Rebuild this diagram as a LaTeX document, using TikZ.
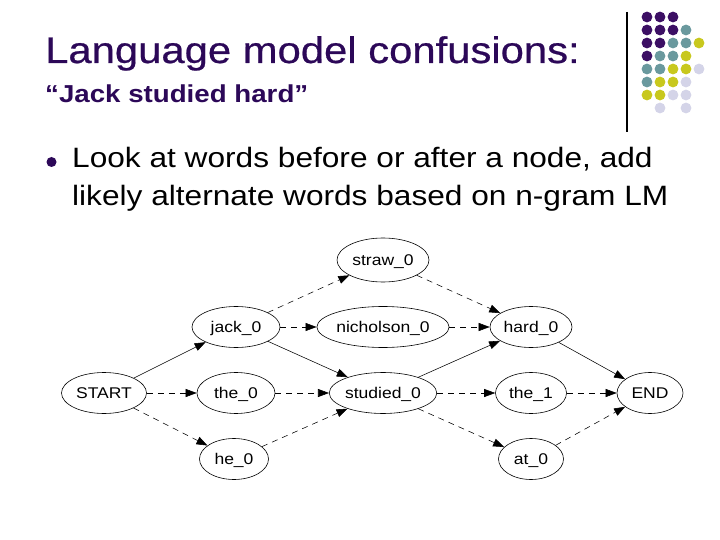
\documentclass[tikz,border=0pt]{standalone}
\usepackage{fontspec}
\setmainfont{Liberation Sans}
\newfontfamily\arialx[FakeStretch=1.13]{Liberation Sans}
\newfontfamily\arialxt[FakeStretch=1.13,FakeBold=0.6]{Liberation Sans}
\usetikzlibrary{shapes.geometric,arrows.meta}
\definecolor{ttl}{HTML}{2C0858}
\definecolor{dP}{HTML}{3C0F64}
\definecolor{dT}{HTML}{6A999E}
\definecolor{dY}{HTML}{C8C81E}
\definecolor{dL}{HTML}{D4D4E8}
\tikzset{
  gnode/.style={draw, line width=0.6pt, ellipse, inner sep=0pt, minimum height=41pt,
    font=\arialx\fontsize{15.5}{18}\selectfont, text height=11.1pt, text depth=0pt},
  solidarr/.style={-{Triangle[length=11pt,width=8pt]}, line width=0.55pt},
  dasharr/.style={solidarr, dash pattern=on 6pt off 5pt},
  gdot/.style={circle, inner sep=0pt, minimum size=10.8pt}
}
\begin{document}
\begin{tikzpicture}[x=1pt,y=-1pt]
\fill[white] (0,0) rectangle (720,540);
\useasboundingbox (0,0) rectangle (720,540);

% titles
\node[anchor=base west, inner sep=0pt, text=ttl, font=\arialxt\fontsize{37}{44}\selectfont] (title) at (45,63) {Language model confusions:};
\node[anchor=base west, inner sep=0pt, text=ttl, font=\arialx\bfseries\fontsize{24.5}{29}\selectfont] (sub) at (45,103) {“Jack studied hard”};
\node[circle, fill=ttl, inner sep=0pt, minimum size=10pt] (bul) at (51.5,162) {};
\node[anchor=base west, inner sep=0pt, font=\arialx\fontsize{28}{34}\selectfont] (l1) at (72,168) {Look at words before or after a node, add};
\node[anchor=base west, inner sep=0pt, font=\arialx\fontsize{28}{34}\selectfont] (l2) at (72,206) {likely alternate words based on n-gram LM};

% decoration
\coordinate (vt) at (627,12);
\coordinate (vb) at (627,132);
\draw[line width=1.1pt] (vt) -- (vb);
\foreach \c/\r/\col in {1/1/dP,2/1/dP,3/1/dP,
  1/2/dP,2/2/dP,3/2/dP,4/2/dT,
  1/3/dP,2/3/dP,3/3/dT,4/3/dT,5/3/dY,
  1/4/dP,2/4/dT,3/4/dT,4/4/dY,
  1/5/dT,2/5/dT,3/5/dY,4/5/dY,5/5/dL,
  1/6/dT,2/6/dY,3/6/dY,4/6/dL,
  1/7/dY,2/7/dY,3/7/dL,4/7/dL,
  2/8/dL,4/8/dL}{
  \node[gdot, fill=\col] (d\c\r) at ({634+13*\c},{4+13*\r}) {};
}

% graph nodes
\node[gnode, minimum width=92pt, minimum height=44pt] (straw) at (383,260) {straw\_0};
\node[gnode, minimum width=88pt] (jack) at (236,327) {jack\_0};
\node[gnode, minimum width=120pt] (nich) at (383,327) {nicholson\_0};
\node[gnode, minimum width=82pt] (hard) at (531,327) {hard\_0};
\node[gnode, minimum width=85pt] (start) at (104,393) {START};
\node[gnode, minimum width=78pt] (the0) at (236,393) {the\_0};
\node[gnode, minimum width=106pt] (stud) at (383,393) {studied\_0};
\node[gnode, minimum width=71pt] (the1) at (531,393) {the\_1};
\node[gnode, minimum width=66pt] (end) at (650,393) {END};
\node[gnode, minimum width=69pt] (he) at (234,459) {he\_0};
\node[gnode, minimum width=65pt] (at) at (531,459) {at\_0};

% edges
\draw[solidarr] (start) -- (jack);
\draw[dasharr] (start) -- (the0);
\draw[dasharr] (start) -- (he);
\draw[dasharr] (jack) -- (straw);
\draw[dasharr] (jack) -- (nich);
\draw[solidarr] (jack) -- (stud);
\draw[dasharr] (the0) -- (stud);
\draw[dasharr] (he) -- (stud);
\draw[dasharr] (straw) -- (hard);
\draw[dasharr] (nich) -- (hard);
\draw[solidarr] (stud) -- (hard);
\draw[dasharr] (stud) -- (the1);
\draw[dasharr] (stud) -- (at);
\draw[solidarr] (hard) -- (end);
\draw[dasharr] (the1) -- (end);
\draw[dasharr] (at) -- (end);
\end{tikzpicture}
\end{document}
